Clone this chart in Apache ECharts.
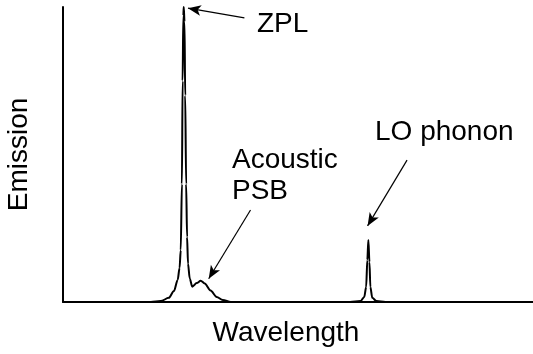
<!DOCTYPE html>
<html>
<head>
<meta charset="utf-8">
<script src="https://cdn.jsdelivr.net/npm/echarts@6/dist/echarts.min.js"></script>
<style>
  html, body { margin: 0; padding: 0; background: #fff; }
  #chart { width: 533px; height: 354px; }
</style>
</head>
<body>
<div id="chart"></div>
<script>
// Emission spectrum: sharp zero-phonon line, acoustic phonon sideband, LO phonon replica
const wavelength = [0, 10, 18.7, 20.8, 22.5, 23.6, 24.4, 24.8, 25.05, 25.3, 25.45, 25.6, 25.69, 25.85, 26.0, 26.2, 26.4, 26.6, 26.96, 27.5, 28.45, 29.3, 30.15, 31.4, 32.7, 34.0, 35.7, 45, 55, 61.1, 63.3, 64.1, 64.5, 64.75, 64.97, 65.2, 65.4, 65.8, 66.7, 68.6, 80, 100];
const emission   = [0, 0, 0, 0.3, 1.4, 3.7, 7.5, 11.5, 17.6, 40, 75, 97, 100, 95, 70, 40, 22, 13, 8, 5.2, 6.4, 7.2, 6.3, 3.9, 1.7, 0.7, 0, 0, 0, 0, 0.3, 1.7, 5.1, 14.2, 21, 13.6, 5.1, 1.4, 0.3, 0, 0, 0];

// Annotation arrows: [label, tail, head] in data units
const arrows = [
  ['ZPL', [38.6, 96.3], [26.6, 99.6]],
  ['Acoustic PSB', [39.9, 31.2], [31.0, 7.9]],
  ['LO phonon', [73.2, 48.1], [64.8, 25.8]]
];

const chart = echarts.init(document.getElementById('chart'));
const fontFamily = 'Liberation Sans, Arial, sans-serif';
const fs = 28;

chart.setOption({
  animation: false,
  grid: { left: 63, right: 0, top: 7, bottom: 52, outerBoundsMode: 'none', containLabel: false },
  xAxis: {
    type: 'value', min: 0, max: 100,
    name: 'Wavelength', nameLocation: 'middle', nameGap: 17,
    nameTextStyle: { fontFamily, fontSize: fs, color: '#000', padding: [0, 24, 0, 0] },
    axisLine: { lineStyle: { color: '#000', width: 2 } },
    axisTick: { show: false }, axisLabel: { show: false }, splitLine: { show: false }
  },
  yAxis: {
    type: 'value', min: 0, max: 100,
    name: 'Emission', nameLocation: 'middle', nameGap: 30,
    nameTextStyle: { fontFamily, fontSize: fs, color: '#000' },
    axisLine: { show: true, lineStyle: { color: '#000', width: 2 } },
    axisTick: { show: false }, axisLabel: { show: false }, splitLine: { show: false }
  },
  series: [{
    type: 'line',
    data: wavelength.map((w, i) => [w, emission[i]]),
    symbol: 'none',
    smooth: 0.3,
    smoothMonotone: 'x',
    lineStyle: { color: '#000', width: 2 },
    markLine: {
      silent: true,
      symbol: ['none', 'arrow'],
      symbolSize: [8, 13],
      lineStyle: { color: '#000', width: 1.2, type: 'solid' },
      label: { show: false },
      data: arrows.map(a => [{ coord: a[1] }, { coord: a[2] }])
    }
  }],
  graphic: [
    { type: 'text', left: 257, top: 10, style: { text: 'ZPL', font: fs + 'px ' + fontFamily, fill: '#000' } },
    { type: 'text', left: 232, top: 145, style: { text: 'Acoustic\nPSB', font: fs + 'px ' + fontFamily, fill: '#000', lineHeight: 31 } },
    { type: 'text', left: 375, top: 118, style: { text: 'LO phonon', font: fs + 'px ' + fontFamily, fill: '#000' } }
  ]
});
</script>
</body>
</html>
